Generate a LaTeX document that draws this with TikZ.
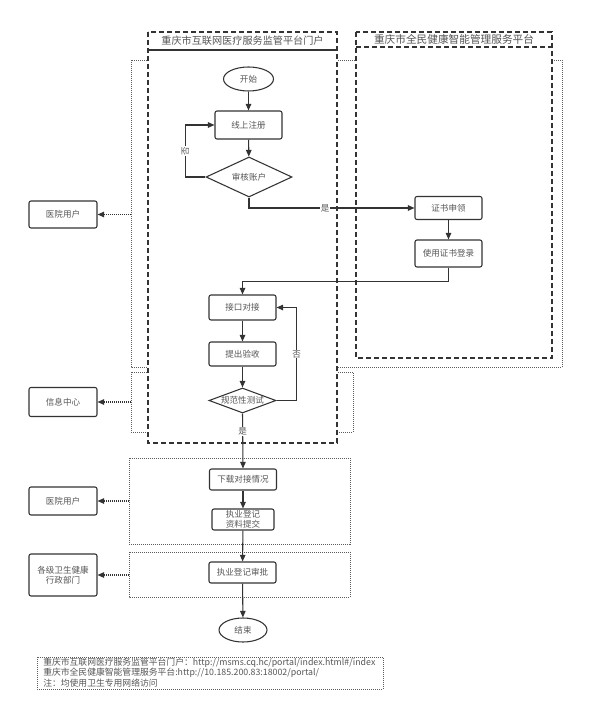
\documentclass[tikz,border=0pt]{standalone}
\usepackage{fontspec}
\setmainfont{Noto Sans CJK SC}
\usepackage{tikz}
\usetikzlibrary{shapes.geometric, arrows.meta}
\definecolor{lc}{HTML}{333333}
\definecolor{tc}{HTML}{555555}
\newcommand{\nodefont}{\fontsize{6.4}{7.6}\selectfont}
\tikzstyle{arrow} = [line width=0.8pt, draw=lc, -{Triangle[length=5pt,width=4.2pt]}]
\tikzstyle{dotarrow} = [arrow, dash pattern=on 0.75pt off 0.75pt]
\tikzstyle{box} = [draw=lc, line width=0.8pt, rounded corners=1.5pt, text=tc, font=\nodefont, align=center, inner sep=1pt, minimum width=50.25pt]
\tikzstyle{term} = [ellipse, draw=lc, line width=0.8pt, text=tc, font=\nodefont, inner sep=0pt, minimum width=37.5pt, minimum height=18pt]
\tikzstyle{decision} = [diamond, draw=lc, line width=0.8pt, text=tc, font=\nodefont, inner sep=0pt, aspect=2.4]
\tikzstyle{grp} = [draw=lc!80, line width=0.7pt, dash pattern=on 0.75pt off 0.75pt]
\tikzstyle{lane} = [draw=lc, line width=0.9pt, dash pattern=on 3.75pt off 2.25pt]
\tikzstyle{lbl} = [fill=white, text=tc, font=\nodefont, inner sep=0.6pt]

\begin{document}
\begin{tikzpicture}[x=0.75pt,y=-0.75pt]
\useasboundingbox (0,0) rectangle (591,709);

% dotted groups behind the lanes
\draw[grp] (131,60) rectangle (562,367);
\draw[grp] (131,372) rectangle (353,432);

% lanes
\draw[lane, fill=white] (356,32) rectangle (552,358);
\draw[lane] (356,47) -- (552,47);
\node[text=tc, font=\fontsize{8}{9}\selectfont] (t2) at (454,39.5) {重庆市全民健康智能管理服务平台};

\draw[lane, fill=white] (148,32) rectangle (337,443);
\draw[draw=lc, line width=0.9pt] (148,50) -- (337,50);
\node[text=tc, font=\fontsize{7.6}{9}\selectfont] (t1) at (242.5,41) {重庆市互联网医疗服务监管平台门户};

% lower groups
\draw[grp] (129,458) rectangle (350,544);
\draw[grp] (129,552) rectangle (350,597);
\draw[grp] (37,657) rectangle (383,689);

% flow
\node[term] (start) at (248.5,79) {开始};
\node[box, minimum height=21pt] (reg) at (248.5,125) {线上注册};
\node[decision, minimum width=64.5pt, minimum height=30pt] (d1) at (249,177) {审核账户};
\node[box, minimum height=17.25pt] (apply) at (448.5,208) {证书申领};
\node[box, minimum height=20.25pt] (login) at (448.5,253.5) {使用证书登录};
\node[box, minimum height=18.75pt] (jk) at (242.5,307.5) {接口对接};
\node[box, minimum height=18pt] (ys) at (242.5,354) {提出验收};
\node[decision, minimum width=50.25pt, minimum height=18.75pt, aspect=2.68] (test) at (242.5,400.5) {规范性测试};
\node[box, minimum height=15.75pt] (dl) at (243,479.5) {下载对接情况};
\node[box, minimum width=46.5pt, minimum height=15.75pt] (zl) at (243,519.5) {执业登记\\资料提交};
\node[box, minimum height=15.75pt] (sp) at (242.5,572.5) {执业登记审批};
\node[term, minimum width=36pt] (end) at (243,630) {结束};

% left side
\node[box, minimum width=51pt, minimum height=20.25pt] (hu1) at (63,214.5) {医院用户};
\node[box, minimum width=51pt, minimum height=21.75pt] (info) at (63,402) {信息中心};
\node[box, minimum width=51pt, minimum height=21pt] (hu2) at (63,501) {医院用户};
\node[box, minimum width=51pt, minimum height=31.5pt] (gov) at (63,575) {各级卫生健康\\行政部门};

% connectors
\draw[arrow] (start) -- (reg);
\draw[arrow] (reg) -- (d1);
\draw[arrow] (d1.west) -- ++(-20,0) |- node[lbl, pos=0.25, rotate=90] (no1) {否} (reg.west);
\draw[arrow] (d1.south) |- node[lbl, pos=0.73] (yes1) {是} (apply.west);
\draw[arrow] (apply) -- (login);
\draw[arrow] (login.south) -- ++(0,14) -| (jk.north);
\draw[arrow] (jk) -- (ys);
\draw[arrow] (ys) -- (test);
\draw[arrow] (test.east) -- ++(20,0) |- node[lbl, pos=0.25] (no2) {否} (jk.east);
\draw[arrow] (test.south) -- node[lbl, pos=0.32] (yes2) {是} (dl.north);
\draw[arrow] (dl) -- (zl);
\draw[arrow] (zl) -- (sp);
\draw[arrow] (sp) -- (end);

\coordinate (g1) at (131,214.5);
\coordinate (g2) at (131,402);
\coordinate (g3) at (129,501);
\coordinate (g4) at (129,575);
\draw[dotarrow] (g1) -- (hu1);
\draw[dotarrow] (g2) -- (info);
\draw[dotarrow] (g3) -- (hu2);
\draw[dotarrow] (g4) -- (gov);

% notes
\node[anchor=west, align=left, text=tc, font=\fontsize{6.6}{6.75}\selectfont, inner sep=0pt] (note) at (43,672.5)
  {重庆市互联网医疗服务监管平台门户：http://msms.cq.hc/portal/index.html\#/index\\
   重庆市全民健康智能管理服务平台:http://10.185.200.83:18002/portal/\\
   注：均使用卫生专用网络访问};

\end{tikzpicture}
\end{document}
